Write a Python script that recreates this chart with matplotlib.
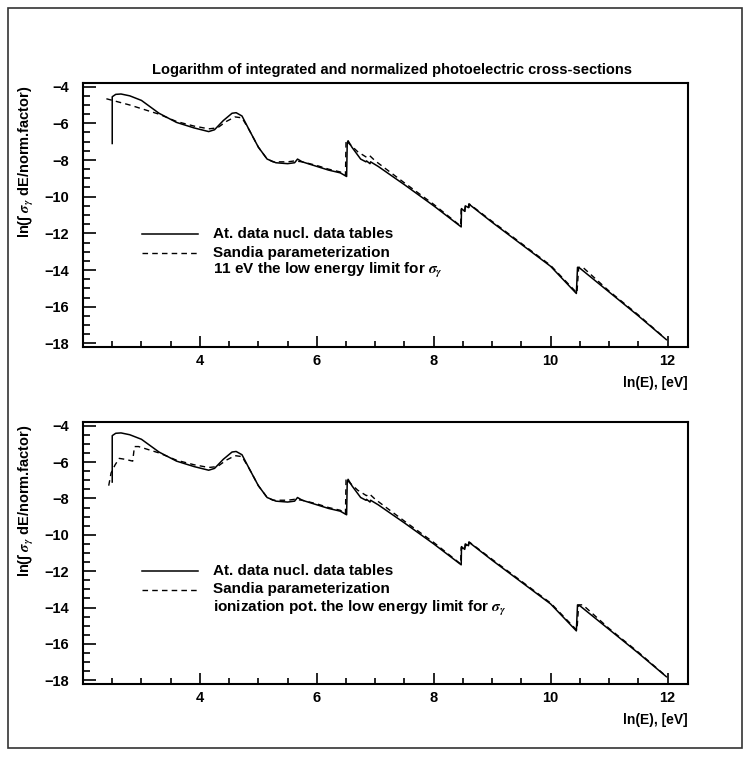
import numpy as np
import matplotlib
matplotlib.use("Agg")
from matplotlib import pyplot as plt
from matplotlib.patches import Rectangle
from matplotlib.ticker import MultipleLocator

plt.rcParams['font.family'] = ['Liberation Sans', 'DejaVu Sans']
plt.rcParams['font.weight'] = 'bold'
plt.rcParams['mathtext.fontset'] = 'stix'

# ln(E) [eV] and ln(integrated cross-section)
# At. data nucl. data tables (same in both panels)
at_x = [2.50, 2.50, 2.56, 2.65, 2.80, 3.00, 3.30, 3.60, 3.90, 4.15, 4.25, 4.40,
        4.55, 4.62, 4.72, 4.85, 5.00, 5.15, 5.30, 5.50, 5.62, 5.67, 5.75, 6.00,
        6.20, 6.40, 6.51, 6.52, 6.535, 6.60, 6.75, 6.84, 6.85, 6.91, 6.92, 7.05,
        7.50, 8.00, 8.47, 8.475, 8.53, 8.54, 8.595, 8.60, 9.00, 9.50, 10.00,
        10.44, 10.46, 10.50, 11.00, 11.50, 11.98]
at_y = [-7.10, -4.55, -4.42, -4.40, -4.50, -4.75, -5.45, -5.95, -6.25, -6.45, -6.35, -5.85,
        -5.45, -5.42, -5.60, -6.40, -7.30, -7.95, -8.15, -8.20, -8.15, -7.95, -8.10, -8.35,
        -8.55, -8.70, -8.90, -7.10, -6.95, -7.30, -7.95, -8.10, -8.05, -8.20, -8.10, -8.35,
        -9.35, -10.50, -11.65, -10.65, -10.80, -10.50, -10.60, -10.40, -11.40, -12.60, -13.80,
        -15.28, -13.85, -13.90, -15.20, -16.50, -17.80]

# Sandia parameterization, 11 eV low limit (top panel)
sa11_x = [2.40, 2.80, 3.30, 3.60, 3.90, 4.15, 4.30, 4.45, 4.60, 4.72, 4.85, 5.00,
          5.15, 5.25, 5.50, 5.62, 5.75, 6.00, 6.20, 6.40, 6.49, 6.50, 6.55, 6.70,
          6.85, 6.90, 7.00, 7.50, 8.00, 8.46, 8.47, 8.53, 8.54, 8.60, 8.61, 9.00,
          9.50, 10.00, 10.45, 10.48, 10.55, 11.00, 11.50, 11.95]
sa11_y = [-4.66, -5.00, -5.50, -5.90, -6.15, -6.30, -6.25, -5.90, -5.65, -5.70, -6.40, -7.30,
          -7.95, -8.10, -8.10, -8.05, -8.10, -8.30, -8.50, -8.65, -8.85, -6.90, -7.10, -7.55,
          -7.85, -7.75, -8.05, -9.25, -10.42, -11.60, -10.70, -10.85, -10.55, -10.65, -10.40, -11.35,
          -12.55, -13.75, -15.25, -13.85, -13.85, -15.15, -16.45, -17.70]

# Sandia parameterization, ionization potential low limit (bottom panel)
saip_x = [2.44, 2.48, 2.55, 2.62, 2.72, 2.85, 2.88, 2.95, 3.10, 3.30, 3.60, 3.90,
          4.15, 4.30, 4.45, 4.60, 4.72, 4.85, 5.00, 5.15, 5.25, 5.50, 5.62, 5.75,
          6.00, 6.20, 6.40, 6.49, 6.50, 6.55, 6.70, 6.85, 6.90, 7.00, 7.50, 8.00,
          8.46, 8.47, 8.53, 8.54, 8.60, 8.61, 9.00, 9.50, 10.00, 10.45, 10.48, 10.55,
          11.00, 11.50, 11.95]
saip_y = [-7.30, -6.60, -6.15, -5.80, -5.85, -5.95, -5.15, -5.15, -5.30, -5.50, -5.90, -6.15,
          -6.30, -6.25, -5.90, -5.65, -5.70, -6.40, -7.30, -7.95, -8.10, -8.10, -8.05, -8.10,
          -8.30, -8.50, -8.65, -8.85, -6.90, -7.10, -7.55, -7.85, -7.75, -8.05, -9.25, -10.42,
          -11.60, -10.70, -10.85, -10.55, -10.65, -10.40, -11.35, -12.55, -13.75, -15.25, -13.85, -13.85,
          -15.15, -16.45, -17.70]

title = "Logarithm of integrated and normalized photoelectric cross-sections"
ylab = "ln(\u222b $\\sigma_\\gamma$ dE/norm.factor)"
xlab = "ln(E), [eV]"
leg_at = "At. data nucl. data tables"
leg_sa = "Sandia parameterization"
notes = ["11 eV the low energy limit for $\\sigma_\\gamma$",
         "ionization pot. the low energy limit for $\\sigma_\\gamma$"]

W, H = 750, 763
fig = plt.figure(figsize=(W / 100, H / 100), dpi=100)

def fx(px):
    return px / W

def fy(py):
    return 1 - py / H

fig.add_artist(Rectangle((fx(8), fy(748)), fx(742) - fx(8), fy(8) - fy(748),
                         transform=fig.transFigure, fill=False, ec='#333333', lw=1.2))

fig.text(fx(152), fy(70), title, ha='left', va='center', fontsize=10.5, fontweight='bold')

panels = [(83, 347, sa11_x, sa11_y, notes[0]), (422, 684, saip_x, saip_y, notes[1])]
for top, bot, sx, sy, note in panels:
    ax = fig.add_axes([fx(83), fy(bot), fx(688) - fx(83), fy(top) - fy(bot)])
    ax.plot(at_x, at_y, color='black', lw=1.1)
    ax.plot(sx, sy, color='black', lw=1.0, dashes=(4, 3))
    ax.set_xlim(2.0, 12.35)
    ax.set_ylim(-18.2, -3.8)
    ax.xaxis.set_major_locator(MultipleLocator(2))
    ax.xaxis.set_minor_locator(MultipleLocator(0.5))
    ax.yaxis.set_major_locator(MultipleLocator(2))
    ax.yaxis.set_minor_locator(MultipleLocator(0.5))
    ax.tick_params(which='both', direction='in', top=False, right=False,
                   labelsize=10.5, width=1.2)
    ax.tick_params(axis='y', which='major', length=9, pad=10)
    ax.tick_params(axis='y', which='minor', length=5)
    ax.tick_params(axis='x', which='major', length=8, pad=5)
    ax.tick_params(axis='x', which='minor', length=4)
    for lab in ax.get_xticklabels() + ax.get_yticklabels():
        lab.set_fontweight('bold')
    for s in ax.spines.values():
        s.set_linewidth(1.5)
    ax.set_xticks([4, 6, 8, 10, 12])

    fig.text(fx(688), fy(bot + 36), xlab, ha='right', va='center', fontsize=10, fontweight='bold')
    fig.text(fx(26), fy(top + 2), ylab, ha='center', va='top', rotation=90,
             fontsize=10.5, fontweight='bold')

    # legend block
    y1 = bot - 113
    dy = 18.5
    fig.add_artist(plt.Line2D([fx(142), fx(198)], [fy(y1), fy(y1)], color='black', lw=1.1,
                              transform=fig.transFigure))
    fig.add_artist(plt.Line2D([fx(142), fx(198)], [fy(y1 + dy), fy(y1 + dy)], color='black',
                              lw=1.0, dashes=(4, 3), transform=fig.transFigure))
    fig.text(fx(213), fy(y1), leg_at, ha='left', va='center', fontsize=11, fontweight='bold')
    fig.text(fx(213), fy(y1 + dy), leg_sa, ha='left', va='center', fontsize=11, fontweight='bold')
    fig.text(fx(213), fy(y1 + 2 * dy), note, ha='left', va='center', fontsize=11, fontweight='bold')

fig.savefig("out.png", dpi=100)
